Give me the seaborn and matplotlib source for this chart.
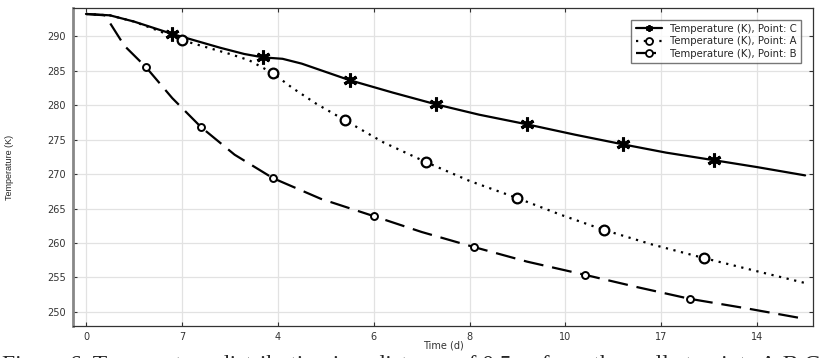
import numpy as np
import matplotlib
matplotlib.use("Agg")
import matplotlib.pyplot as plt
import seaborn as sns

# Temperature (K) vs time (d), three points
time_c = [0, 0.5, 1.0, 1.4, 1.8, 2.3, 2.8, 3.3, 3.7, 4.1, 4.5, 5.0, 5.5, 6.4, 7.3,
          8.2, 9.2, 10.2, 11.2, 12.1, 13.1, 14.0, 15.0]
temp_c = [293.2, 293.0, 292.1, 291.2, 290.3, 289.3, 288.3, 287.4, 286.9, 286.7, 286.0,
          284.8, 283.6, 281.8, 280.1, 278.6, 277.2, 275.7, 274.3, 273.1, 272.0, 271.0, 269.8]
marks_c = [4, 8, 12, 14, 16, 18, 20]

time_a = [0, 0.5, 1.0, 1.5, 2.0, 2.5, 3.0, 3.4, 3.9, 4.3, 4.8, 5.4, 6.2, 7.1, 8.0,
          9.0, 9.9, 10.8, 11.8, 12.9, 14.0, 15.0]
temp_a = [293.2, 293.0, 292.1, 290.8, 289.4, 288.4, 287.4, 286.5, 284.6, 282.5, 280.2,
          277.8, 274.6, 271.7, 269.0, 266.5, 264.1, 261.9, 259.8, 257.8, 255.9, 254.2]
marks_a = [4, 8, 11, 13, 15, 17, 19]

time_b = [0, 0.4, 0.8, 1.25, 1.8, 2.4, 3.1, 3.9, 4.9, 6.0, 7.0, 8.1, 9.2, 10.4,
          11.5, 12.6, 13.8, 15.0]
temp_b = [293.2, 293.0, 288.6, 285.5, 281.0, 276.8, 272.8, 269.4, 266.4, 263.9, 261.6,
          259.4, 257.3, 255.4, 253.6, 251.9, 250.5, 249.0]
marks_b = [3, 5, 7, 9, 11, 13, 15]

labels = ["Temperature (K), Point: C", "Temperature (K), Point: A", "Temperature (K), Point: B"]
xticks = [0, 2, 4, 6, 8, 10, 12, 14]
xtick_labels = ["0", "7", "4", "6", "8", "10", "17", "14"]
yticks = [250, 255, 260, 265, 270, 275, 280, 285, 290]

sns.set_style("ticks")
plt.rcParams["font.family"] = ["DejaVu Sans"]

fig = plt.figure(figsize=(8.28, 3.58), dpi=100)
ax = fig.add_axes([0.0882, 0.0894, 0.894, 0.888])

sns.lineplot(x=time_c, y=temp_c, ax=ax, color="black", lw=1.6, linestyle="-",
             marker=(6, 2, 0), markersize=10, mec="black", markeredgewidth=2.2,
             markevery=marks_c, sort=False, legend=False)
sns.lineplot(x=time_a, y=temp_a, ax=ax, color="black", lw=1.6, linestyle=(0, (1, 2.5)),
             marker="o", markersize=7, mfc="white", mec="black",
             markeredgewidth=1.6, markevery=marks_a, sort=False, legend=False)
sns.lineplot(x=time_b, y=temp_b, ax=ax, color="black", lw=1.6, linestyle=(0, (9, 4)),
             marker="o", markersize=5, mfc="white", mec="black",
             markeredgewidth=1.4, markevery=marks_b, sort=False, legend=False)

ax.set_xlim(-0.27, 15.17)
ax.set_ylim(247.97, 294.05)
ax.set_xticks(xticks)
ax.set_xticklabels(xtick_labels)
ax.set_yticks(yticks)
ax.grid(True, color="#e2e2e2", lw=0.9)
ax.tick_params(direction="in", length=3, width=0.8, labelsize=7, top=True, right=True,
               colors="#333333", labelcolor="#333333", pad=5)
ax.tick_params(axis="x", pad=4)
for side in ["top", "right", "bottom"]:
    ax.spines[side].set_color("#333333")
    ax.spines[side].set_linewidth(0.9)
ax.spines["left"].set_color("#888888")
ax.spines["left"].set_linewidth(2)

ax.set_xlabel("Time (d)", fontsize=7, labelpad=-1, color="#333333")
ax.set_ylabel("Temperature (K)", fontsize=6.5, labelpad=24, family="Liberation Sans")

leg = ax.legend(ax.lines[:3], labels, loc="upper right", fontsize=7.3, frameon=True,
                fancybox=False, edgecolor="#555555", handlelength=2.6, borderpad=0.4,
                labelspacing=0.25, bbox_to_anchor=(0.99, 0.98))
leg.get_frame().set_linewidth(1.0)
for h in leg.legend_handles:
    h.set_markersize(5)
    h.set_markeredgewidth(1.3)

fig.text(0.003, -0.036, "Figure 6. Temperature distribution in a distance of 0.5 m from the wall at points A,B,C",
         fontsize=17, family="Liberation Serif", va="baseline", ha="left")

fig.savefig("out.png", dpi=100)
